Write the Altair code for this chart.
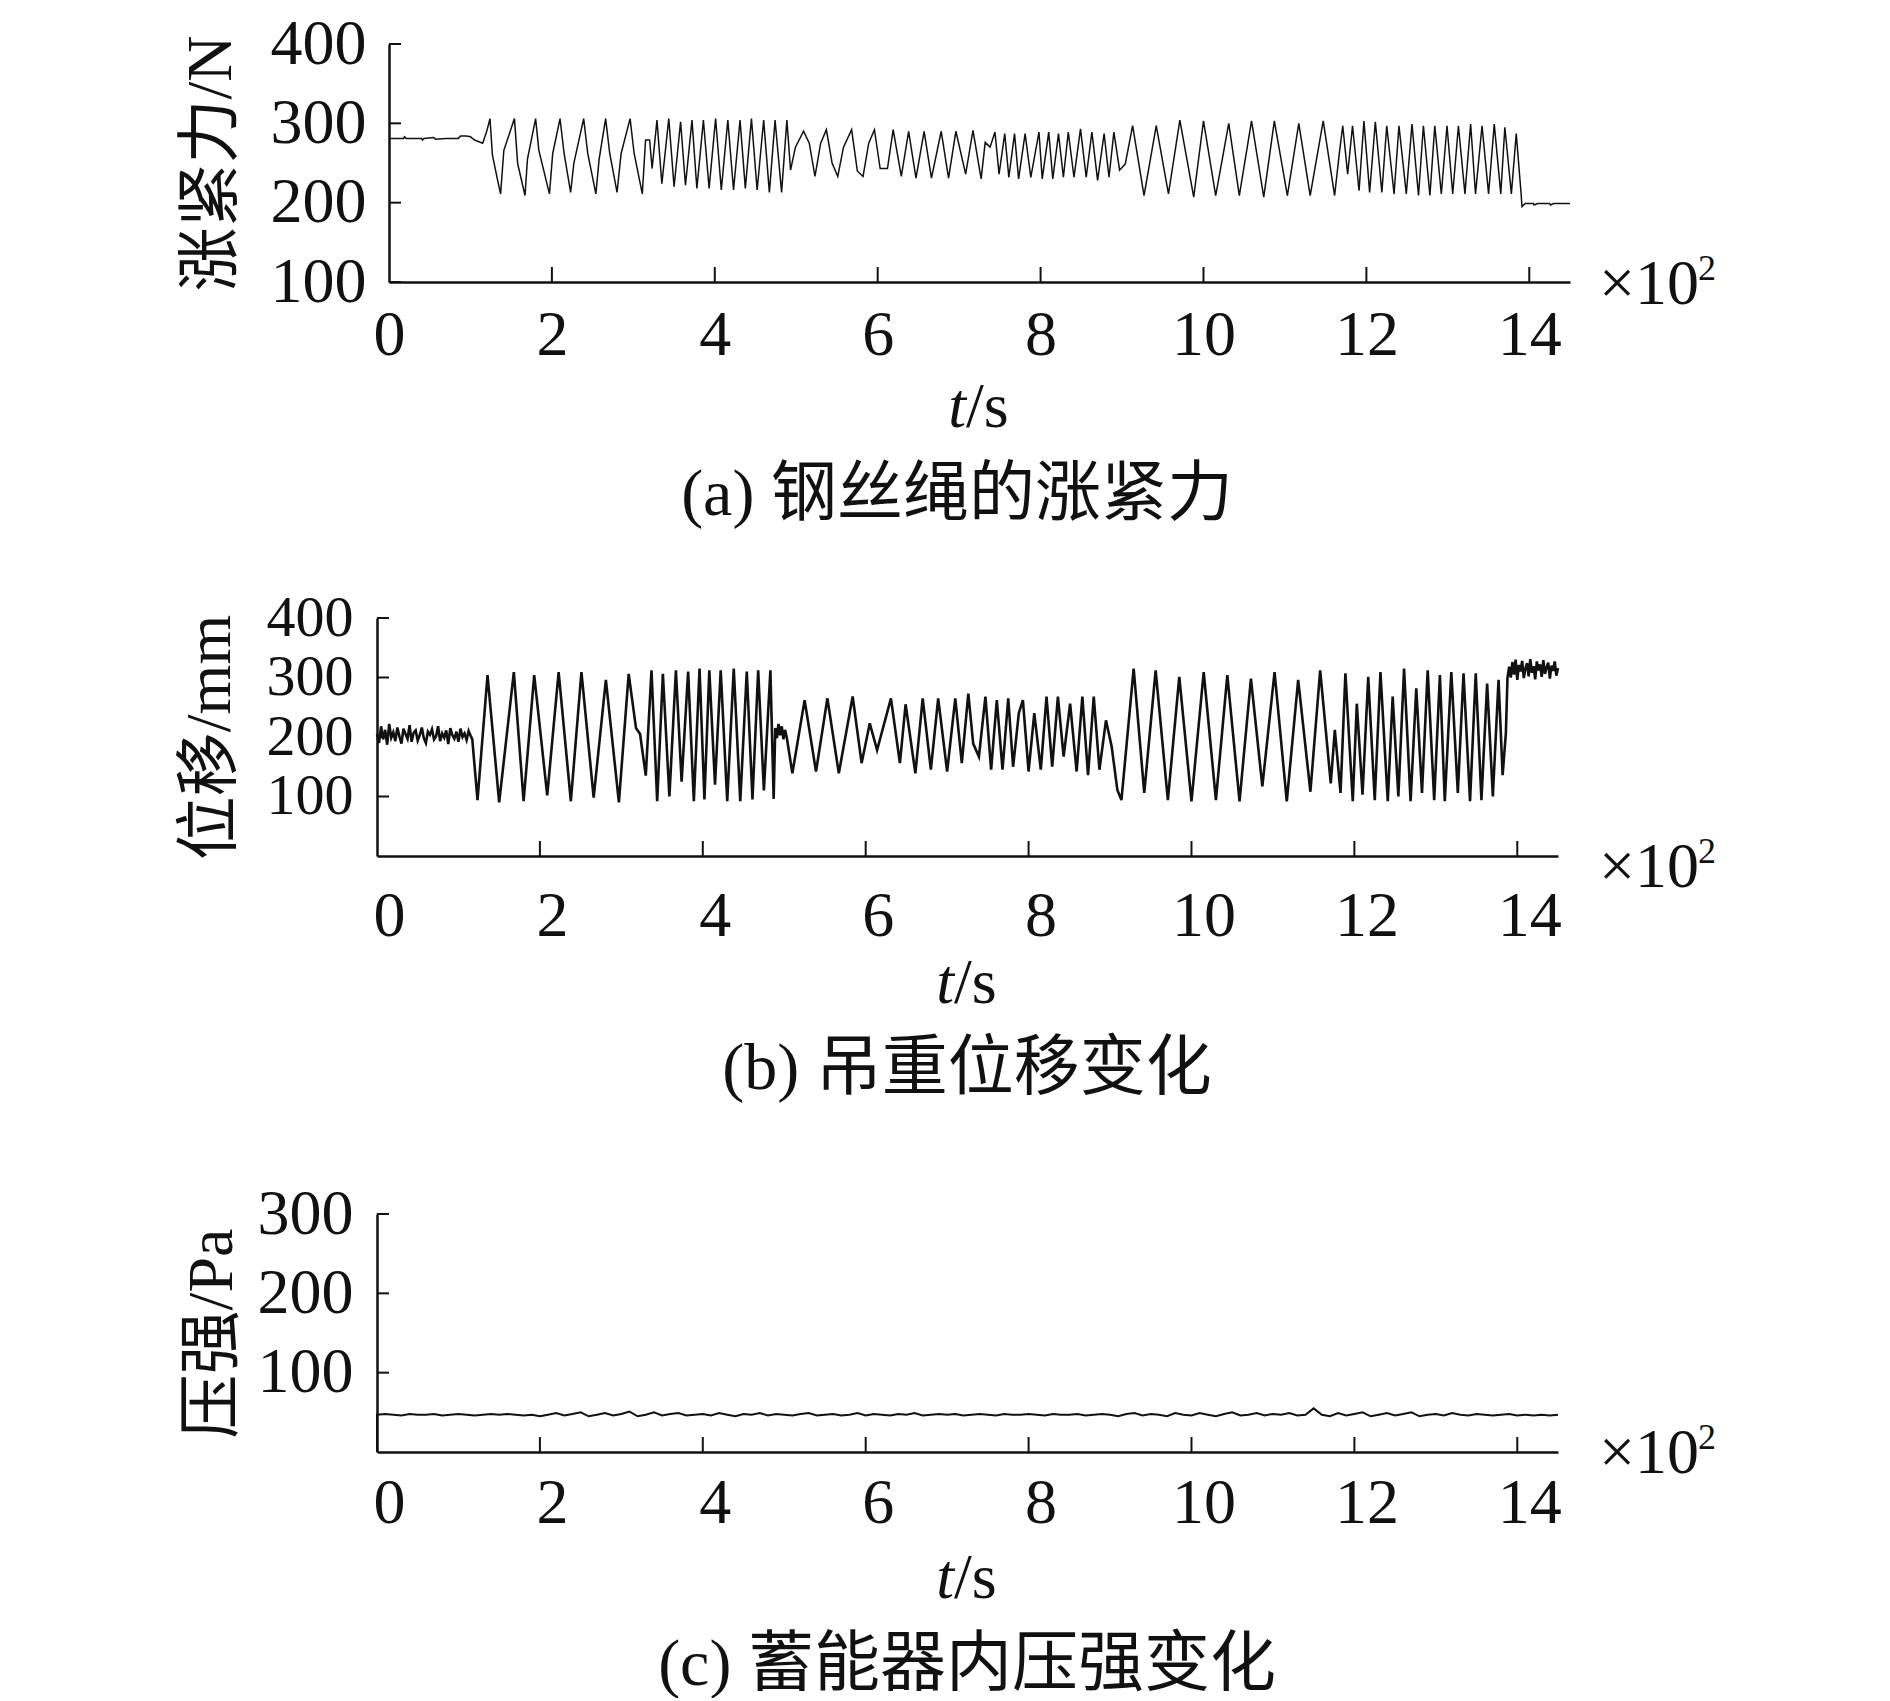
import altair as alt
import pandas as pd

FONT = "Liberation Serif, Noto Sans CJK SC"
INK = "#111111"
H = 238
X_TICKS = [0, 2, 4, 6, 8, 10, 12, 14]
X_MAX = 14.5

# ---------------- (a) rope tension, N  (t in 10^2 s) ----------------
a_t = [0.00, 0.18, 0.19, 0.21, 0.40, 0.41, 0.43, 0.55, 0.57, 0.70, 0.85, 0.88, 0.95, 1.00, 1.05, 1.15,
       1.20, 1.24, 1.27, 1.33, 1.37, 1.41, 1.54, 1.58, 1.67, 1.70, 1.80, 1.84, 1.97, 2.01, 2.10,
       2.15, 2.23, 2.27, 2.39, 2.44, 2.54, 2.58, 2.66, 2.71, 2.80, 2.85, 2.96, 3.01, 3.11,
       3.15, 3.20, 3.23, 3.29, 3.35, 3.435, 3.50, 3.58, 3.64, 3.72, 3.78, 3.86, 3.93, 4.01, 4.08,
       4.16, 4.23, 4.31, 4.375, 4.45, 4.52, 4.60, 4.67, 4.74, 4.82, 4.885,
       4.93, 4.99, 5.09, 5.16, 5.23, 5.30, 5.37, 5.44, 5.51, 5.58, 5.68, 5.75, 5.82, 5.89, 5.96,
       6.03, 6.12, 6.19, 6.29, 6.38, 6.47, 6.57, 6.66, 6.78, 6.87, 6.96,
       7.08, 7.17, 7.27, 7.32, 7.38, 7.44, 7.49, 7.56, 7.61, 7.68, 7.73, 7.81, 7.88, 7.98, 8.02,
       8.10, 8.15, 8.22, 8.28, 8.34, 8.41, 8.49, 8.56, 8.63, 8.70, 8.78, 8.84, 8.90, 8.97, 9.04,
       9.13, 9.27, 9.42, 9.57, 9.71, 9.88, 10.00, 10.15, 10.31, 10.44, 10.59, 10.74, 10.87, 11.03,
       11.17, 11.31, 11.47, 11.61,
       11.67, 11.71, 11.77, 11.83, 11.91, 11.97, 12.04, 12.11, 12.19, 12.25, 12.34, 12.40, 12.49,
       12.56, 12.64, 12.70, 12.78, 12.84, 12.92, 12.99, 13.06, 13.13, 13.21, 13.28, 13.34, 13.42,
       13.50, 13.57, 13.65, 13.70, 13.78, 13.84, 13.90,
       13.91, 13.95, 14.05, 14.06, 14.10, 14.25, 14.26, 14.30, 14.50]
a_v = [281, 281, 283, 281, 281, 279, 281, 282, 280, 281, 281, 284, 284, 283, 279, 275,
       290, 306, 260, 230, 211, 266, 306, 249, 209, 255, 306, 266, 211, 262, 306,
       262, 213, 250, 306, 262, 211, 255, 306, 262, 213, 262, 306, 262, 211,
       279, 279, 243, 304, 224, 306, 220, 302, 222, 304, 218, 304, 218, 306, 216,
       304, 216, 304, 218, 306, 216, 304, 213, 304, 213, 304,
       241, 270, 290, 275, 233, 275, 292, 250, 233, 270, 292, 240, 233, 275, 292,
       243, 243, 292, 233, 290, 231, 290, 231, 290, 231, 290,
       236, 291, 230, 276, 270, 289, 236, 287, 232, 287, 230, 287, 232, 289, 230,
       289, 230, 287, 232, 289, 232, 293, 232, 289, 228, 287, 232, 289, 241, 249,
       297, 209, 297, 211, 304, 207, 303, 209, 300, 209, 303, 207, 303, 209,
       300, 209, 303, 209,
       264, 297, 236, 297, 215, 303, 213, 302, 213, 297, 211, 297, 211,
       299, 209, 297, 209, 297, 211, 297, 211, 297, 211, 299, 211, 297,
       211, 299, 211, 295, 211, 287, 211,
       195, 199, 199, 197, 199, 199, 197, 199, 199]

# ---------------- (b) load displacement, mm ----------------
b_start_step = 0.025   # samples from t = 0 to 1.15
b_start_v = [205, 190, 218, 196, 212, 187, 222, 199, 208, 193, 216, 201, 189, 214, 205, 197,
             220, 192, 207, 211, 194, 203, 216, 198, 190, 209, 204, 213, 196, 201, 218, 193,
             206, 199, 211, 188, 215, 203, 197, 209, 192, 214, 200, 206, 195, 210, 202]
b_mid_t = [1.17, 1.234, 1.357, 1.50, 1.68, 1.80, 1.93, 2.09, 2.23, 2.38, 2.51, 2.66, 2.81, 2.97,
           3.09, 3.18, 3.23, 3.30,
           3.37, 3.44, 3.51, 3.59, 3.67, 3.74, 3.82, 3.89, 3.96, 4.02, 4.08, 4.15, 4.22, 4.30,
           4.38, 4.46, 4.54, 4.61, 4.68, 4.75, 4.83, 4.87,
           4.89, 4.91, 4.93, 4.95, 4.97, 4.99, 5.01, 5.03,
           5.10, 5.25, 5.39, 5.53, 5.67, 5.84, 5.95, 6.05, 6.14, 6.31, 6.42, 6.49, 6.61, 6.70,
           6.80, 6.89, 7.00, 7.10, 7.18, 7.26,
           7.32, 7.39, 7.47, 7.54, 7.61, 7.68, 7.75, 7.81, 7.88, 7.93, 8.00, 8.07, 8.15, 8.22,
           8.29, 8.36, 8.43, 8.51, 8.59, 8.66, 8.73, 8.80, 8.87, 8.95, 9.02, 9.09,
           9.14, 9.29, 9.42, 9.56, 9.71, 9.85, 10.00, 10.15, 10.30, 10.44, 10.59, 10.73, 10.87,
           11.02, 11.17, 11.31, 11.46, 11.58, 11.71, 11.76,
           11.83, 11.89, 11.98, 12.03, 12.10, 12.17, 12.25, 12.32, 12.41, 12.47, 12.54, 12.61,
           12.69, 12.76, 12.83, 12.90, 12.98, 13.05, 13.11, 13.19, 13.27, 13.34, 13.42, 13.49,
           13.56, 13.63, 13.70, 13.77, 13.82, 13.86, 13.88]
b_mid_v = [196, 94, 304, 90, 309, 92, 304, 102, 309, 92, 309, 98, 296, 90,
           306, 215, 205, 135,
           312, 92, 306, 100, 312, 125, 310, 92, 315, 95, 312, 120, 312, 92,
           315, 92, 310, 95, 312, 110, 312, 96,
           215, 198, 222, 203, 218, 196, 212, 200,
           139, 262, 142, 265, 139, 268, 156, 223, 178, 265, 156, 255, 139, 265,
           145, 265, 142, 265, 156, 273,
           189, 167, 268, 145, 262, 145, 265, 150, 240, 262, 142, 240, 145, 268,
           150, 268, 167, 256, 142, 268, 136, 268, 145, 228, 184, 111,
           94, 315, 106, 312, 94, 301, 92, 309, 94, 304, 92, 298, 117,
           309, 92, 296, 108, 312, 122, 212,
           106, 307, 92, 256, 103, 301, 94, 309, 92, 268, 100, 315,
           92, 282, 106, 312, 94, 304, 92, 309, 106, 307, 92, 307,
           94, 290, 100, 296, 136, 206, 300]
b_end_t0 = 13.90
b_end_step = 0.02      # samples from t = 13.90 to 14.50
b_end_v = [318, 300, 326, 305, 330, 296, 321, 310, 328, 299, 315, 324, 302, 331, 308, 319,
           297, 327, 312, 322, 301, 329, 306, 317, 325, 298, 320, 311, 327, 303, 316]

# ---------------- (c) accumulator pressure, Pa ----------------
c_step = 0.1           # samples from t = 0 to 14.5 (line starts from 0 at t = 0)
c_v = [47, 48, 47, 46, 48, 47, 47, 48, 46, 47,
       48, 47, 46, 47, 48, 47, 48, 47, 46, 47,
       45, 47, 49, 46, 48, 50, 45, 47, 49, 46,
       48, 51, 45, 47, 50, 46, 48, 49, 46, 47,
       48, 46, 49, 47, 45, 48, 47, 49, 46, 48,
       47, 46, 48, 49, 46, 47, 48, 46, 47, 49,
       46, 48, 47, 46, 48, 47, 49, 46, 47, 48,
       47, 48, 46, 47, 48, 47, 46, 48, 47, 47,
       48, 47, 46, 48, 47, 47, 48, 46, 47, 48,
       47, 45, 48, 49, 46, 48, 47, 45, 49, 47,
       46, 49, 47, 45, 48, 50, 46, 47, 49, 46,
       48, 47, 49, 46, 47, 55, 47, 45, 49, 46,
       48, 50, 45, 47, 49, 46, 48, 50, 45, 47,
       48, 46, 49, 47, 46, 48, 47, 46, 47, 48,
       46, 47, 46, 47, 46, 47]

# ---------------- assemble series ----------------
a_df = pd.DataFrame({"t": a_t, "v": a_v})
b_t = ([round(i * b_start_step, 3) for i in range(len(b_start_v))] + b_mid_t +
       [round(b_end_t0 + i * b_end_step, 3) for i in range(len(b_end_v))])
b_v = b_start_v + b_mid_v + b_end_v
b_df = pd.DataFrame({"t": b_t, "v": b_v})
c_t = [0.0] + [round(i * c_step, 2) for i in range(len(c_v))]
c_df = pd.DataFrame({"t": c_t, "v": [0] + c_v})


def text_layer(s, x, y, size=64, align="left", style="normal"):
    return alt.Chart(pd.DataFrame({"s": [s]})).mark_text(
        font=FONT, fontSize=size, color=INK, align=align, baseline="middle",
        fontStyle=style).encode(x=alt.value(x), y=alt.value(y), text="s:N")


def panel(df, ymin, ymax, y_ticks, y_title, caption, width, shift, top, label_dx, label_pad,
          ylabel_pad, ylabel_size, title_x, stroke, sci_y, ts_x, ts_y, cap_x, cap_y):
    # `top` = empty strip above the plot area so panels land where the reference has them
    xs = alt.Scale(domain=[0, X_MAX], range=[shift, width], nice=False, zero=False)
    ys = alt.Scale(domain=[ymin, ymax], range=[H + top, top], nice=False, zero=False)
    x_axis = alt.Axis(values=X_TICKS, title=None, grid=False, ticks=False, tickSize=0,
                      labelFont=FONT, labelFontSize=64, labelColor=INK,
                      labelPadding=label_pad, labelBaseline="middle", labelOffset=label_dx,
                      labelFlush=False, labelOverlap=False, domainColor=INK, domainWidth=2.5)
    y_axis = alt.Axis(values=y_ticks, title=y_title, grid=False, ticks=False, tickSize=0,
                      offset=-shift, labelFont=FONT, labelFontSize=ylabel_size, labelColor=INK,
                      labelPadding=ylabel_pad, labelBaseline="middle", labelFlush=False,
                      labelOverlap=False, domainColor=INK, domainWidth=2.5,
                      titleFont=FONT, titleFontSize=64, titleFontWeight="normal",
                      titleColor=INK, titleAngle=270, titleAlign="center",
                      titleBaseline="middle", titleX=title_x, titleY=top + H / 2)
    line = alt.Chart(df).mark_line(color=INK, strokeWidth=stroke).encode(
        x=alt.X("t:Q", scale=xs, axis=x_axis),
        y=alt.Y("v:Q", scale=ys, axis=y_axis))
    xt = alt.Chart(pd.DataFrame({"k": X_TICKS[1:]})).mark_rule(color=INK, strokeWidth=2).encode(
        x=alt.X("k:Q", scale=xs, axis=x_axis), y=alt.value(top + H), y2=alt.value(top + H - 15))
    yt = alt.Chart(pd.DataFrame({"k": y_ticks})).mark_rule(color=INK, strokeWidth=2).encode(
        y=alt.Y("k:Q", scale=ys, axis=y_axis), x=alt.value(shift), x2=alt.value(shift + 12))
    layers = [line, xt, yt,
              text_layer("×10", 1222, top + sci_y),
              text_layer("2", 1321, top + sci_y - 16, size=36),
              text_layer("t", ts_x, top + ts_y, align="right", style="italic"),
              text_layer("/s", ts_x, top + ts_y),
              text_layer(caption, cap_x, top + cap_y, size=66, align="center")]
    return alt.layer(*layers).properties(width=width, height=H + top)


pa = panel(a_df, 100, 400, [100, 200, 300, 400], "涨紧力/N", "(a) 钢丝绳的涨紧力",
           width=1193, shift=12, top=0, label_dx=0, label_pad=53, ylabel_pad=23, ylabel_size=64,
           title_x=-178, stroke=1.5, sci_y=241, ts_x=589, ts_y=364, cap_x=580, cap_y=451)
pb = panel(b_df, 0, 400, [100, 200, 300, 400], "位移/mm", "(b) 吊重位移变化",
           width=1181, shift=0, top=0, label_dx=12, label_pad=60, ylabel_pad=24, ylabel_size=58,
           title_x=-167, stroke=2.6, sci_y=250, ts_x=577, ts_y=366, cap_x=590, cap_y=451)
pc = panel(c_df, 0, 300, [100, 200, 300], "压强/Pa", "(c) 蓄能器内压强变化",
           width=1181, shift=0, top=22, label_dx=12, label_pad=51, ylabel_pad=24, ylabel_size=64,
           title_x=-165, stroke=2.0, sci_y=240, ts_x=577, ts_y=365, cap_x=590, cap_y=451)

chart = alt.vconcat(pa, pb, pc, spacing=336, bounds="flush").properties(
    padding={"left": 170, "top": 4, "right": 10, "bottom": 0},
    background="white"
).configure_view(stroke=None)

chart.save("out.html", embed_options={"renderer": "svg", "actions": False})
